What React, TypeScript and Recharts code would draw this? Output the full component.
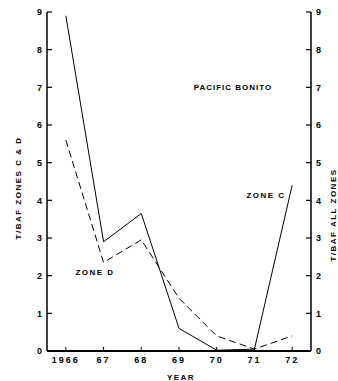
import React from 'react';
import { LineChart, Line, XAxis, YAxis } from 'recharts';

const years = [1966, 1967, 1968, 1969, 1970, 1971, 1972];
const zoneC = [8.9, 2.9, 3.65, 0.6, 0.02, 0.05, 4.4];
const zoneD = [5.6, 2.35, 2.95, 1.4, 0.4, 0.05, 0.4];
const yTicks = [0, 1, 2, 3, 4, 5, 6, 7, 8, 9];

const data = years.map((y, i) => ({ year: y, c: zoneC[i], d: zoneD[i] }));

const FONT = '"Liberation Sans", Arial, sans-serif';
const tickStyle = { fontSize: 9, fontWeight: 'bold', fontFamily: FONT, fill: '#000' };

const yearLabel = (v: number) => (v === 1966 ? '1966' : String(v).slice(2));

const X_MIN = 1965.5;
const X_MAX = 1972.5;

export default function App() {
  return (
    <div style={{ position: 'absolute', left: 0, top: 0, width: 338, height: 381, background: '#fff' }}>
      <LineChart width={338} height={381} data={data} margin={{ top: 12, right: 0, bottom: 0, left: 0 }}>
        <XAxis
          dataKey="year"
          type="number"
          domain={[X_MIN, X_MAX]}
          ticks={years}
          tickFormatter={yearLabel}
          tickSize={-4}
          tickMargin={10}
          height={30}
          tick={{ ...tickStyle, letterSpacing: 2 }}
          tickLine={{ stroke: '#000', strokeWidth: 1 }}
          axisLine={{ stroke: '#000', strokeWidth: 2 }}
          interval={0}
        />
        <YAxis
          yAxisId="l"
          orientation="left"
          domain={[0, 9]}
          ticks={yTicks}
          width={47}
          tickSize={-5}
          tickMargin={10}
          tick={tickStyle}
          tickLine={{ stroke: '#000', strokeWidth: 1.2 }}
          axisLine={{ stroke: '#000', strokeWidth: 1.5 }}
          interval={0}
        />
        <YAxis
          yAxisId="r"
          orientation="right"
          domain={[0, 9]}
          ticks={yTicks}
          width={27}
          tickSize={-5}
          tickMargin={10}
          tick={tickStyle}
          tickLine={{ stroke: '#000', strokeWidth: 1.2 }}
          axisLine={{ stroke: '#000', strokeWidth: 1.5 }}
          interval={0}
        />
        <Line yAxisId="r" type="linear" dataKey="c" stroke="none" strokeWidth={0} dot={false} legendType="none" isAnimationActive={false} />
        <Line yAxisId="l" type="linear" dataKey="c" stroke="#000" strokeWidth={1} dot={false} isAnimationActive={false} />
        <Line yAxisId="l" type="linear" dataKey="d" stroke="#000" strokeWidth={1} strokeDasharray="7 4" dot={false} isAnimationActive={false} />
        <text x={21} y={188} transform="rotate(-90 21 188)" textAnchor="middle" fontSize={8} fontWeight="bold" fontFamily={FONT} letterSpacing={1.5} fill="#000">
          T/BAF ZONES C &amp; D
        </text>
        <text x={336} y={215} transform="rotate(-90 336 215)" textAnchor="middle" fontSize={8} fontWeight="bold" fontFamily={FONT} letterSpacing={1.5} fill="#000">
          T/BAF ALL ZONES
        </text>
        <text x={233} y={90} textAnchor="middle" fontSize={8} fontWeight="bold" fontFamily={FONT} letterSpacing={1} fill="#000">
          PACIFIC BONITO
        </text>
        <text x={266} y={198} textAnchor="middle" fontSize={8} fontWeight="bold" fontFamily={FONT} letterSpacing={1.5} fill="#000">
          ZONE C
        </text>
        <text x={95} y={275} textAnchor="middle" fontSize={8} fontWeight="bold" fontFamily={FONT} letterSpacing={1.5} fill="#000">
          ZONE D
        </text>
        <text x={181} y={380} textAnchor="middle" fontSize={8} fontWeight="bold" fontFamily={FONT} letterSpacing={1.5} fill="#000">
          YEAR
        </text>
      </LineChart>
    </div>
  );
}
